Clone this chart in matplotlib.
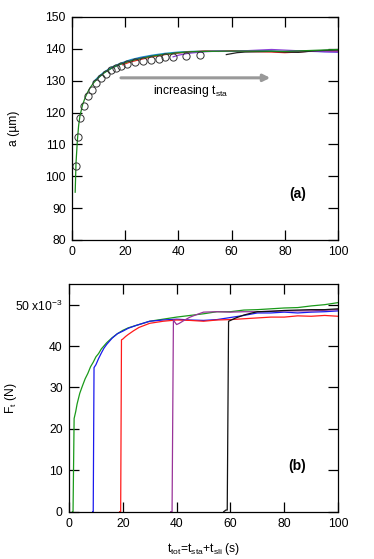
import matplotlib
matplotlib.use("Agg")
import matplotlib.pyplot as plt

plt.rcParams['font.family'] = ['Liberation Sans', 'DejaVu Sans']
plt.rcParams['font.size'] = 8.7
plt.rcParams['mathtext.fontset'] = 'custom'
plt.rcParams['mathtext.rm'] = 'Liberation Sans'
plt.rcParams['mathtext.it'] = 'Liberation Sans'

# ---- panel (a): contact radius vs time ----
circ_t = [1.5, 2.3, 3.1, 4.6, 6.1, 7.4, 9.1, 10.9, 12.8, 14.7, 16.4, 18.4, 20.8,
          23.7, 26.6, 29.6, 32.6, 35.0, 37.8, 42.7, 48.2]
circ_a = [103.3, 112.4, 118.2, 122.2, 125.2, 127.2, 129.3, 130.9, 132.2, 133.3, 134.1,
          134.7, 135.4, 135.9, 136.2, 136.6, 136.9, 137.3, 137.5, 137.8, 138.0]

a_green_t = [1.2, 1.5, 2.0, 2.5, 3.0, 4.0, 5.0, 6.0, 7.0, 8.0, 10, 12, 15, 18, 22, 26,
             30, 35, 40, 45, 50, 60, 70, 80, 90, 100]
a_green = [95.0, 104.0, 111.0, 116.0, 119.0, 122.5, 124.8, 126.6, 128.0, 129.2, 131.0,
           132.4, 134.0, 135.1, 136.2, 137.0, 137.7, 138.3, 138.8, 139.1, 139.2, 139.3,
           139.3, 139.2, 139.5, 139.8]
a_cyan_t = [8, 10, 12, 15, 18, 22, 26, 30, 35, 40, 45, 50, 60, 70, 80, 90, 100]
a_cyan = [129.6, 131.3, 132.7, 134.3, 135.4, 136.6, 137.4, 138.0, 138.6, 139.0, 139.2,
          139.3, 139.3, 139.4, 139.2, 139.4, 139.5]
a_blue_t = [9, 12, 15, 20, 25, 30, 40, 50, 60, 70, 80, 90, 100]
a_blue = [130.2, 132.5, 134.0, 135.8, 137.0, 137.8, 138.8, 139.2, 139.2, 139.3, 139.1,
          139.2, 139.0]
a_red_t = [19, 22, 25, 28, 30, 35, 40, 45, 50, 55, 60, 65, 70, 75, 80, 85, 90, 95, 100]
a_red = [135.0, 135.9, 136.5, 137.1, 137.5, 138.2, 138.7, 139.1, 139.3, 139.2, 139.4,
         139.2, 139.1, 139.0, 138.8, 139.0, 139.3, 139.2, 139.3]
a_purple_t = [38, 40, 43, 45, 50, 55, 60, 65, 70, 75, 80, 85, 90, 95, 100]
a_purple = [137.5, 138.0, 138.5, 138.7, 139.1, 139.3, 139.2, 139.4, 139.6, 139.8, 139.6,
            139.4, 139.3, 139.1, 139.0]
a_black_t = [58, 60, 62, 65, 70, 75, 80, 85, 90, 95, 100]
a_black = [138.2, 138.5, 138.8, 139.0, 139.1, 139.2, 139.0, 138.9, 139.3, 139.5, 139.7]

# ---- panel (b): tangential force vs total time ----
g_t = [1.3, 1.5, 1.9, 2.5, 3, 4, 5, 6, 7, 8, 9, 10, 11, 12, 14, 16, 18, 20, 22, 25, 28,
       30, 35, 40, 45, 50, 55, 60, 65, 70, 75, 80, 85, 90, 95, 100]
g_F = [0, 0, 22.5, 24.2, 26.0, 28.6, 30.4, 32.1, 33.4, 35.0, 36.1, 37.4, 38.2, 39.3, 40.8,
       42.0, 43.0, 43.8, 44.4, 45.0, 45.6, 46.0, 46.5, 47.0, 47.4, 47.8, 48.3, 48.3, 48.7,
       48.8, 49.0, 49.2, 49.3, 49.7, 50.0, 50.5]
b_t = [8.8, 9.0, 9.3, 10, 11, 12, 13, 14, 16, 18, 20, 22, 25, 28, 30, 35, 40, 45, 50, 55,
       60, 65, 70, 75, 80, 85, 90, 95, 100]
b_F = [0, 0, 34.8, 35.5, 37.0, 38.3, 39.5, 40.4, 41.9, 43.0, 43.6, 44.3, 45.0, 45.6, 46.0,
       46.3, 46.5, 46.3, 46.2, 46.4, 46.9, 47.4, 48.0, 48.0, 48.2, 48.0, 48.2, 48.3, 48.5]
r_t = [18.8, 19.2, 19.5, 20, 21, 22, 24, 26, 28, 30, 35, 40, 45, 50, 55, 60, 65, 70, 75,
       80, 85, 90, 95, 100]
r_F = [0, 0, 41.5, 41.7, 42.3, 42.8, 43.7, 44.5, 45.0, 45.5, 46.0, 46.3, 46.2, 46.0, 46.3,
       46.4, 46.6, 46.8, 47.0, 47.0, 47.3, 47.2, 47.4, 47.2]
p_t = [37.8, 38.3, 38.8, 39.3, 40, 41, 43, 45, 47, 50, 55, 60, 65, 70, 80, 90, 100]
p_F = [0, 0, 46.3, 45.8, 45.2, 45.5, 46.3, 47.0, 47.5, 48.2, 48.3, 48.2, 48.3, 48.3, 48.5,
       48.5, 48.8]
k_t = [57.5, 58.3, 58.8, 59.3, 60, 62, 65, 68, 70, 75, 80, 85, 90, 95, 100]
k_F = [0, 0.4, 0.4, 46.0, 46.2, 46.8, 47.5, 48.0, 48.3, 48.4, 48.6, 48.7, 48.8, 48.8, 49.0]

xticks = [0, 20, 40, 60, 80, 100]
a_yticks = [80, 90, 100, 110, 120, 130, 140, 150]
F_yticks = [0, 10, 20, 30, 40, 50]
F_ylabels = ['0', '10', '20', '30', '40', '50 x10$^{-3}$']

fig = plt.figure(figsize=(3.74, 5.59), dpi=100)
ax1 = fig.add_axes([0.1925, 0.5707, 0.7115, 0.3989])
ax2 = fig.add_axes([0.1845, 0.0846, 0.7195, 0.4074])

lw = 0.9
ax1.plot(a_cyan_t, a_cyan, color='#1f9ac0', lw=lw)
ax1.plot(a_blue_t, a_blue, color='#2233dd', lw=lw)
ax1.plot(a_red_t, a_red, color='#ee2222', lw=lw)
ax1.plot(a_purple_t, a_purple, color='#8a3fd6', lw=lw)
ax1.plot(a_black_t, a_black, color='#222222', lw=lw)
ax1.plot(a_green_t, a_green, color='#1a8a1a', lw=lw)
ax1.plot(circ_t, circ_a, 'o', mfc='none', mec='#333333', ms=5.2, mew=0.7)
ax1.annotate('', xy=(74.5, 130.9), xytext=(18.4, 130.9),
             arrowprops=dict(arrowstyle='-|>', color='#999999', lw=2.2,
                             mutation_scale=10, shrinkA=0, shrinkB=0))
ax1.text(30.5, 126.8, 'increasing t$_{\\mathrm{sta}}$', fontsize=8.7, va='center')
ax1.text(85, 94.3, '(a)', fontsize=10, fontweight='bold', ha='center', va='center')
ax1.set_xlim(0, 100)
ax1.set_ylim(80, 150)
ax1.set_xticks(xticks)
ax1.set_yticks(a_yticks)
ax1.set_ylabel('a (µm)')
ax1.yaxis.set_label_coords(-0.195, 0.5)

ax2.plot(g_t, g_F, color='#1a9a1a', lw=lw)
ax2.plot(b_t, b_F, color='#1a1aee', lw=lw)
ax2.plot(r_t, r_F, color='#ff1a1a', lw=lw)
ax2.plot(p_t, p_F, color='#993399', lw=lw)
ax2.plot(k_t, k_F, color='#111111', lw=lw)
ax2.text(84.7, 11.1, '(b)', fontsize=10, fontweight='bold', ha='center', va='center')
ax2.set_xlim(0, 100)
ax2.set_ylim(0, 55)
ax2.set_xticks(xticks)
ax2.set_yticks(F_yticks)
ax2.set_yticklabels(F_ylabels)
ax2.set_ylabel('F$_\\mathrm{t}$ (N)')
ax2.yaxis.set_label_coords(-0.185, 0.5)
ax2.set_xlabel('t$_{\\mathrm{tot}}$=t$_{\\mathrm{sta}}$+t$_{\\mathrm{sli}}$ (s)')
ax2.xaxis.set_label_coords(0.5, -0.13)

for ax in (ax1, ax2):
    ax.tick_params(direction='in', length=7, width=0.9, top=True, right=True, pad=4.5)
    for s in ax.spines.values():
        s.set_linewidth(0.9)

fig.savefig('out.png', dpi=100)
